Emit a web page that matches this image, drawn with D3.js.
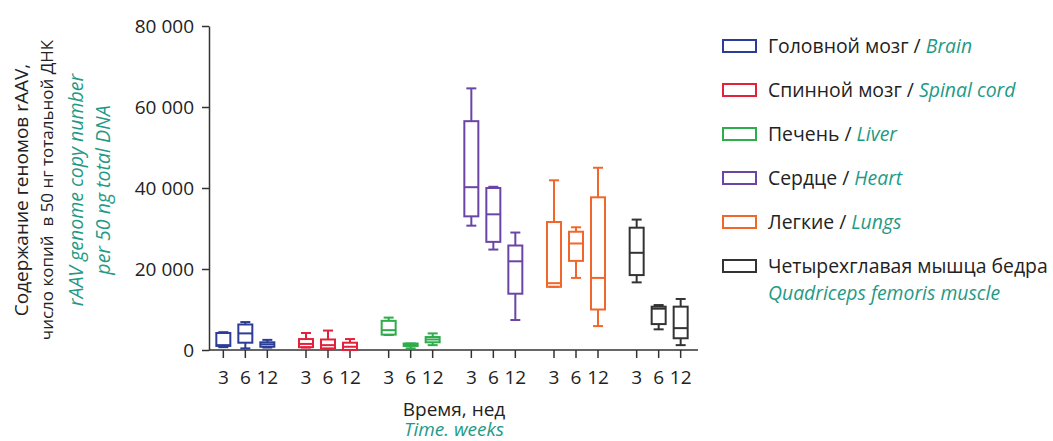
<!DOCTYPE html>
<html><head><meta charset="utf-8">
<script src="https://cdn.jsdelivr.net/npm/d3@7"></script>
<style>
body{margin:0;background:#fff;}
text{font-family:"Open Sans","Noto Sans",sans-serif;}
</style></head>
<body><svg id="c" width="1053" height="441"></svg>
<script>
// Data: per tissue, per week [min, q1, median, q3, max]
const tissues = ["brain","spinal","liver","heart","lungs","quad"];
const weeks = ["3","6","12"];
const brain  = [[700,1000,1200,4200,4400],[400,1800,4100,6300,6900],[600,800,1400,1900,2500]];
const spinal = [[600,700,1500,2700,4200],[200,400,1200,2600,4800],[0,0,800,1800,2700]];
const liver  = [[3700,3800,4900,7200,8000],[400,1000,1300,1600,1600],[1200,1900,2600,3200,4100]];
const heart  = [[30700,33000,40200,56500,64600],[24800,26700,33500,40000,40300],[7400,13900,21900,25800,29000]];
const lungs  = [[15600,15600,16500,31600,41900],[17800,22000,26300,29200,30300],[5900,10000,17800,37700,45000]];
const quad   = [[16700,18500,24000,30200,32200],[5100,6400,10200,10700,11100],[1200,2900,5400,10700,12600]];
const stats = [brain, spinal, liver, heart, lungs, quad];
const colors = ["#2c3d96","#e2223b","#2fac4c","#6a45a6","#f1662a","#333333"];
const legendRu = ["Головной мозг / ","Спинной мозг / ","Печень / ","Сердце / ","Легкие / ","Четырехглавая мышца бедра"];
const legendEn = ["Brain","Spinal cord","Liver","Heart","Lungs","Quadriceps femoris muscle"];
const yTicks = [0,20000,40000,60000,80000];
const teal = "#1f9a86";

const svg = d3.select("#c");
const y = d3.scaleLinear().domain([0,80000]).range([350,26]);
const xg = d3.scaleBand().domain(tissues).range([204,700]);
const xw = d3.scalePoint().domain(weeks).range([-22,22]);
const loc = d3.formatLocale({decimal:".",thousands:"\u00a0",grouping:[3],currency:["",""]});
const fmt = loc.format(",d");

// Y axis
const ya = svg.append("g").attr("transform","translate(209,0)")
  .call(d3.axisLeft(y).tickValues(yTicks).tickFormat(fmt).tickSize(7).tickSizeOuter(0).tickPadding(8));
ya.select(".domain").attr("stroke","#333").attr("stroke-width",1.5);
ya.selectAll(".tick line").attr("stroke","#333").attr("stroke-width",1.5);
ya.selectAll("text").attr("font-size",19).attr("fill","#222").style("font-family","'Open Sans','Noto Sans',sans-serif");

// X axis line
svg.append("line").attr("x1",209).attr("x2",698).attr("y1",y(0)).attr("y2",y(0))
  .attr("stroke","#333").attr("stroke-width",1.5);

const gx = d => xg(d) + xg.bandwidth()/2;
tissues.forEach((t,i)=>{
  weeks.forEach((w,j)=>{
    const cx = gx(t) + xw(w);
    svg.append("line").attr("x1",cx).attr("x2",cx).attr("y1",y(0)).attr("y2",y(0)+8)
      .attr("stroke","#333").attr("stroke-width",1.5);
    svg.append("text").attr("x",cx).attr("y",384).attr("text-anchor","middle")
      .attr("font-size",19).attr("fill","#222").text(w);
  });
  const g = svg.append("g").attr("stroke",colors[i]).attr("stroke-width",2).attr("fill","none");
  stats[i].forEach((s,j)=>{
    const cx = gx(t) + xw(weeks[j]);
    const hw = 7, cw = 5;
    const [mn,q1,md,q3,mx] = s;
    g.append("line").attr("x1",cx).attr("x2",cx).attr("y1",y(mx)).attr("y2",y(q3));
    g.append("line").attr("x1",cx).attr("x2",cx).attr("y1",y(q1)).attr("y2",y(mn));
    g.append("line").attr("x1",cx-cw).attr("x2",cx+cw).attr("y1",y(mx)).attr("y2",y(mx));
    g.append("line").attr("x1",cx-cw).attr("x2",cx+cw).attr("y1",y(mn)).attr("y2",y(mn));
    g.append("rect").attr("x",cx-hw).attr("width",hw*2).attr("y",y(q3)).attr("height",Math.max(1,y(q1)-y(q3)));
    g.append("line").attr("x1",cx-hw).attr("x2",cx+hw).attr("y1",y(md)).attr("y2",y(md));
  });
});

// Y title
const yt = svg.append("g").attr("transform","translate(0,190) rotate(-90)");
yt.append("text").attr("x",0).attr("y",28).attr("text-anchor","middle").attr("font-size",19).attr("fill","#222").text("Содержание геномов rAAV,");
yt.append("text").attr("x",0).attr("y",53).attr("text-anchor","middle").attr("font-size",17).attr("fill","#222").style("white-space","pre").text("число копий  в 50 нг тотальной ДНК");
yt.append("text").attr("x",0).attr("y",83).attr("text-anchor","middle").attr("font-size",19.5).attr("font-style","italic").attr("fill",teal).text("rAAV genome copy number");
yt.append("text").attr("x",0).attr("y",110).attr("text-anchor","middle").attr("font-size",19.5).attr("font-style","italic").attr("fill",teal).text("per 50 ng total DNA");

// X title
svg.append("text").attr("x",454).attr("y",416).attr("text-anchor","middle").attr("font-size",19).attr("fill","#222").text("Время, нед");
svg.append("text").attr("x",454).attr("y",436).attr("text-anchor","middle").attr("font-size",19).attr("font-style","italic").attr("fill",teal).text("Time. weeks");

// Legend
tissues.forEach((t,i)=>{
  const cy = 46 + i*44;
  svg.append("rect").attr("x",723).attr("y",cy-6).attr("width",33).attr("height",12)
    .attr("fill","none").attr("stroke",colors[i]).attr("stroke-width",2);
  const tx = svg.append("text").attr("x",768).attr("y",cy+7).attr("font-size",19.4).attr("fill","#222");
  tx.append("tspan").text(legendRu[i]);
  if(i<5){
    tx.append("tspan").attr("fill",teal).attr("font-style","italic").text(legendEn[i]);
  } else {
    svg.append("text").attr("x",768).attr("y",cy+34).attr("font-size",19.4).attr("fill",teal)
      .attr("font-style","italic").text(legendEn[i]);
  }
});
</script></body></html>
